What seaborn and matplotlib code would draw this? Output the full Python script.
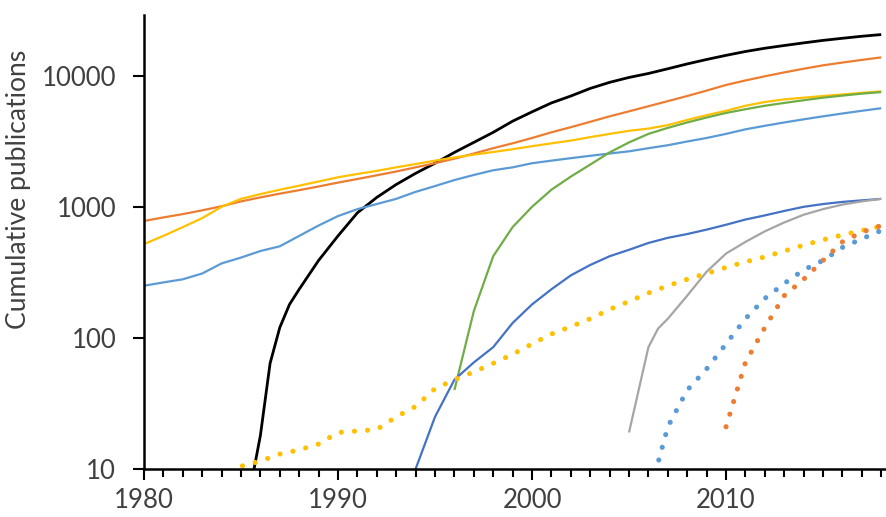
import matplotlib
matplotlib.use("Agg")
import matplotlib.pyplot as plt
import seaborn as sns
from matplotlib.ticker import FixedLocator, MultipleLocator, NullLocator

# Cumulative publications per topic
years_black = [1985, 1986, 1986.5, 1987, 1987.5, 1988, 1989, 1990, 1991, 1992, 1993,
               1994, 1995, 1996, 1997, 1998, 1999, 2000, 2001, 2002, 2003, 2004,
               2005, 2006, 2007, 2008, 2009, 2010, 2011, 2012, 2013, 2014, 2015,
               2016, 2017, 2018]
black = [3, 18, 64, 120, 180, 235, 390, 600, 900, 1180, 1480, 1800, 2150, 2600, 3100,
         3700, 4500, 5300, 6200, 7000, 8000, 8900, 9700, 10400, 11300, 12300, 13300,
         14300, 15300, 16200, 17000, 17800, 18600, 19300, 20000, 20600]

years_long = list(range(1980, 2019))
orange = [780, 830, 880, 940, 1010, 1100, 1180, 1260, 1340, 1430, 1530, 1630, 1740,
          1860, 2000, 2150, 2330, 2550, 2800, 3050, 3350, 3700, 4050, 4450, 4900,
          5350, 5850, 6400, 7000, 7700, 8500, 9200, 9900, 10600, 11300, 12000,
          12600, 13200, 13800]
yellow = [520, 600, 700, 820, 1000, 1150, 1250, 1350, 1450, 1560, 1680, 1780, 1880,
          2000, 2120, 2250, 2380, 2500, 2620, 2750, 2900, 3050, 3200, 3400, 3600,
          3800, 3950, 4200, 4600, 5000, 5400, 5900, 6300, 6600, 6800, 7000, 7200,
          7400, 7600]
light_blue = [250, 265, 280, 310, 370, 410, 460, 500, 600, 720, 850, 960, 1050, 1150,
              1300, 1440, 1600, 1750, 1900, 2000, 2150, 2250, 2350, 2450, 2550, 2650,
              2800, 2950, 3150, 3350, 3600, 3900, 4150, 4400, 4650, 4900, 5150, 5400,
              5650]

years_green = list(range(1996, 2019))
green = [40, 160, 420, 700, 1000, 1350, 1700, 2100, 2600, 3100, 3600, 4000, 4400,
         4800, 5200, 5550, 5900, 6200, 6500, 6800, 7050, 7300, 7500]

years_dark = list(range(1994, 2019))
dark_blue = [10, 25, 48, 65, 85, 130, 180, 235, 300, 360, 420, 470, 530, 580, 620,
             670, 730, 800, 860, 930, 1000, 1050, 1090, 1120, 1150]

years_gray = [2005, 2006, 2006.5, 2007, 2008, 2009, 2010, 2011, 2012, 2013, 2014,
              2015, 2016, 2017, 2018]
gray = [19, 85, 118, 140, 210, 320, 440, 540, 650, 760, 870, 960, 1040, 1100, 1150]

years_ydot = list(range(1984, 2019))
yellow_dot = [8, 10.5, 11.5, 13, 14, 15.5, 19, 19.5, 20, 25, 30, 41, 48, 55, 64, 75,
              90, 107, 122, 140, 165, 190, 220, 250, 280, 310, 345, 380, 415, 460,
              510, 560, 610, 660, 710]

years_bdot = list(range(2006, 2019))
blue_dot = [6, 21, 40, 58, 90, 140, 200, 260, 330, 390, 490, 570, 660]

years_odot = list(range(2010, 2019))
orange_dot = [21, 65, 120, 210, 280, 390, 540, 640, 720]

y_ticks = [10, 100, 1000, 10000]
y_tick_labels = ["10", "100", "1000", "10000"]
x_ticks = [1980, 1990, 2000, 2010]

sns.set_style("ticks")
plt.rcParams["font.family"] = ["Lato", "DejaVu Sans"]

fig = plt.figure(figsize=(8.86, 5.17), dpi=100)
ax = fig.add_axes([0.1625, 0.0928, 0.8365, 0.878])
ax.set_yscale("log")

solid = [
    (years_black, black, "#000000", 2.0),
    (years_long, orange, "#ED7D31", 1.6),
    (years_long, yellow, "#FFC000", 1.6),
    (years_long, light_blue, "#5B9BD5", 1.6),
    (years_green, green, "#70AD47", 1.6),
    (years_dark, dark_blue, "#4472C4", 1.6),
    (years_gray, gray, "#A5A5A5", 1.6),
]
for xs, ys, col, lw in solid:
    sns.lineplot(x=xs, y=ys, color=col, linewidth=lw, estimator=None, ax=ax,
                 solid_capstyle="butt", solid_joinstyle="round")

dotted = [
    (years_ydot, yellow_dot, "#FFC000"),
    (years_bdot, blue_dot, "#5B9BD5"),
    (years_odot, orange_dot, "#ED7D31"),
]
for xs, ys, col in dotted:
    sns.lineplot(x=xs, y=ys, color=col, linewidth=3.7, estimator=None, ax=ax,
                 linestyle=(0, (0.01, 2.55)), dash_capstyle="round")

ax.set_xlim(1980, 2018.2)
ax.set_ylim(10, 29000)

ax.yaxis.set_major_locator(FixedLocator(y_ticks))
ax.yaxis.set_minor_locator(NullLocator())
ax.set_yticklabels(y_tick_labels)
ax.xaxis.set_major_locator(FixedLocator(x_ticks))
ax.xaxis.set_minor_locator(MultipleLocator(1))

ax.tick_params(axis="both", which="major", direction="out", length=8, width=1.5,
               labelsize=18.5, colors="#000000", labelcolor="#404040")
ax.tick_params(axis="y", which="major", pad=12)
ax.tick_params(axis="x", which="major", pad=6)
ax.tick_params(axis="x", which="minor", direction="out", length=6, width=1.5,
               colors="#000000")

sns.despine(ax=ax)
for side in ["left", "bottom"]:
    ax.spines[side].set_linewidth(1.8)
    ax.spines[side].set_color("#000000")

ax.set_xlabel("")
ylab = ax.set_ylabel("Cumulative publications", fontsize=18, color="#404040")
ax.yaxis.set_label_coords(-0.152, 0.617)
ax.grid(False)

# size the axis title so it spans about 278 px, as in the reference
fig.canvas.draw()
h = ylab.get_window_extent().height
ylab.set_fontsize(18 * 278 / h)

fig.savefig("out.png", dpi=100)
